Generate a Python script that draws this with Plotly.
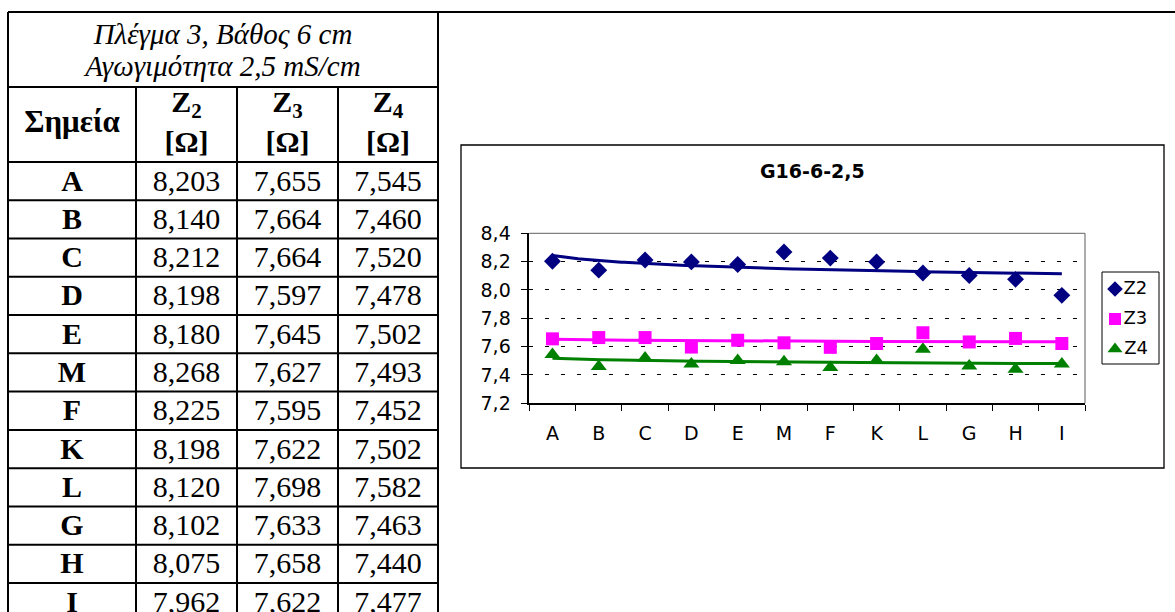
import numpy as np
import plotly.graph_objects as go

# ---- data -----------------------------------------------------------------
points = ["A", "B", "C", "D", "E", "M", "F", "K", "L", "G", "H", "I"]
z2 = [8.203, 8.140, 8.212, 8.198, 8.180, 8.268, 8.225, 8.198, 8.120, 8.102, 8.075, 7.962]
z3 = [7.655, 7.664, 7.664, 7.597, 7.645, 7.627, 7.595, 7.622, 7.698, 7.633, 7.658, 7.622]
z4 = [7.545, 7.460, 7.520, 7.478, 7.502, 7.493, 7.452, 7.502, 7.582, 7.463, 7.440, 7.477]
series_names = ["Z2", "Z3", "Z4"]
series_subs = ["2", "3", "4"]
table_title = ["Πλέγμα 3, Βάθος 6 cm", "Αγωγιμότητα 2,5 mS/cm"]
points_header = "Σημεία"
unit_label = "[Ω]"
chart_title = "G16-6-2,5"

# ---- styles / geometry ----------------------------------------------------
W, H = 1175, 612
colors = ["#000080", "#FF00FF", "#008000"]
symbols = ["diamond", "square", "triangle-up"]
msizes = [13, 13, 14]
SERIF = "Times New Roman, Liberation Serif, serif"
SANS = "DejaVu Sans, Arial, sans-serif"

# table layout (pixels)
col_edges = [8, 136, 237, 338, 438]
t_top, title_bottom, head_bottom, row_h = 12, 87, 162, 38.27
line_w = 2

# chart layout (pixels)
box = dict(x0=461, x1=1164, y0=145, y1=468)
plot_l, plot_r, plot_t, plot_b = 529.3, 1085, 233.3, 403.3
leg = dict(x0=1102, x1=1159, y0=272, y1=364)

series = [z2, z3, z4]

fig = go.Figure()

# ---- chart: markers -------------------------------------------------------
xi = np.arange(len(points))
for name, vals, col, sym, ms in zip(series_names, series, colors, symbols, msizes):
    fig.add_trace(go.Scatter(
        x=xi, y=vals, mode="markers", name=name, showlegend=False,
        marker=dict(symbol=sym, size=ms, color=col, line=dict(width=0)),
        xaxis="x", yaxis="y", hoverinfo="skip", cliponaxis=False))

# ---- chart: logarithmic trend lines ---------------------------------------
idx = np.arange(1, len(points) + 1)
xs = np.linspace(1, len(points), 200)
for vals, col in zip(series, colors):
    a, b = np.polyfit(np.log(idx), np.array(vals), 1)
    fig.add_trace(go.Scatter(
        x=xs - 1, y=a * np.log(xs) + b, mode="lines", showlegend=False,
        line=dict(color=col, width=3), xaxis="x", yaxis="y", hoverinfo="skip"))

# ---- table text (pixel axes x2/y2) ----------------------------------------
col_c = [(col_edges[i] + col_edges[i + 1]) / 2 for i in range(4)]
row_c = [head_bottom + row_h * (i + 0.5) + 2 for i in range(len(points))]

def fmt(v):
    return f"{v:.3f}".replace(".", ",")

def add_text(xs_, ys_, texts, size):
    fig.add_trace(go.Scatter(
        x=xs_, y=ys_, text=texts, mode="text", showlegend=False,
        textposition="middle center", textfont=dict(family=SERIF, size=size, color="black"),
        xaxis="x2", yaxis="y2", hoverinfo="skip", cliponaxis=False))

tx_mid = (col_edges[0] + col_edges[-1]) / 2
add_text([tx_mid] * 2, [37, 69], [f"<i>{line}</i>" for line in table_title], 29)
add_text([col_c[0]], [124], [f"<b>{points_header}</b>"], 31)

hx, hy, ht = [], [], []
for j, sub in enumerate(series_subs):
    hx += [col_c[j + 1], col_c[j + 1]]
    hy += [104, 144]
    ht += [f"<b>Z<sub>{sub}</sub></b>", f"<b>{unit_label}</b>"]
add_text(hx, hy, ht, 30)

bx, by, bt = [], [], []
for i, p in enumerate(points):
    bx.append(col_c[0]); by.append(row_c[i]); bt.append(f"<b>{p}</b>")
    for j, vals in enumerate(series):
        bx.append(col_c[j + 1]); by.append(row_c[i]); bt.append(fmt(vals[i]))
add_text(bx, by, bt, 30)

# ---- legend entries (pixel axes) ------------------------------------------
leg_y = [leg["y0"] + 17 + 30 * i for i in range(3)]
for name, col, sym, ms, ly in zip(series_names, colors, symbols, msizes, leg_y):
    fig.add_trace(go.Scatter(
        x=[leg["x0"] + 13], y=[ly], text=[name], mode="markers+text",
        textposition="middle right", showlegend=False,
        textfont=dict(family=SANS, size=18, color="black"),
        marker=dict(symbol=sym, size=ms - 1, color=col, line=dict(width=0)),
        xaxis="x2", yaxis="y2", hoverinfo="skip", cliponaxis=False))

# ---- shapes ---------------------------------------------------------------
shapes = []
def seg(x0, y0, x1, y1, w=line_w, color="black"):
    shapes.append(dict(type="line", xref="x2", yref="y2", x0=x0, y0=y0, x1=x1, y1=y1,
                       line=dict(color=color, width=w), layer="above"))

# table grid
seg(col_edges[0], t_top, W, t_top)
seg(col_edges[0], t_top, col_edges[0], H)
seg(col_edges[-1], t_top, col_edges[-1], H)
seg(col_edges[0], title_bottom, col_edges[-1], title_bottom)
for k in range(len(points)):
    y = head_bottom + k * row_h
    seg(col_edges[0], y, col_edges[-1], y)
for x in col_edges[1:-1]:
    seg(x, title_bottom, x, H)

# chart frame, legend frame, plot-area top/right border
shapes.append(dict(type="rect", xref="x2", yref="y2", **box,
                   line=dict(color="black", width=1.3), layer="above"))
shapes.append(dict(type="rect", xref="x2", yref="y2", **leg,
                   line=dict(color="black", width=1), layer="above"))
seg(plot_l, plot_t, plot_r, plot_t, w=1.3, color="#808080")
seg(plot_r, plot_t, plot_r, plot_b, w=1.3, color="#808080")

# ---- layout ---------------------------------------------------------------
fig.update_layout(
    template="none",
    width=W, height=H, autosize=False,
    margin=dict(l=0, r=0, t=0, b=0, pad=0, autoexpand=False),
    paper_bgcolor="white", plot_bgcolor="rgba(0,0,0,0)",
    separators=",.", showlegend=False, hovermode=False,
    shapes=shapes,
    annotations=[dict(x=(box["x0"] + box["x1"]) / 2, y=171, xref="x2", yref="y2",
                      text=f"<b>{chart_title}</b>", showarrow=False,
                      font=dict(family=SANS, size=19, color="black"))],
    xaxis=dict(domain=[plot_l / W, plot_r / W], range=[-0.5, len(points) - 0.5],
               tickmode="array", tickvals=list(xi), ticktext=points, ticks="",
               showline=True, linecolor="black", linewidth=1.5, showgrid=False,
               zeroline=False, ticklabelstandoff=12, automargin=False,
               tickfont=dict(family=SANS, size=19, color="black"),
               minor=dict(tickmode="array", tickvals=[v - 0.5 for v in range(len(points) + 1)],
                          ticks="outside", ticklen=6, tickwidth=1, tickcolor="black",
                          showgrid=False),
               anchor="y", fixedrange=True),
    yaxis=dict(domain=[1 - plot_b / H, 1 - plot_t / H], range=[7.2, 8.4],
               tickmode="linear", tick0=7.2, dtick=0.2, tickformat=".1f",
               ticks="outside", ticklen=7, tickwidth=1, tickcolor="black",
               showline=True, linecolor="black", linewidth=1.5,
               showgrid=True, gridcolor="black", gridwidth=1, griddash="4px,12px",
               zeroline=False, ticklabelstandoff=6, automargin=False,
               tickfont=dict(family=SANS, size=19, color="black"),
               anchor="x", fixedrange=True),
    xaxis2=dict(domain=[0, 1], range=[0, W], visible=False, anchor="y2",
                fixedrange=True, automargin=False),
    yaxis2=dict(domain=[0, 1], range=[H, 0], visible=False, anchor="x2",
                fixedrange=True, automargin=False),
)

fig.write_html("out.html")
